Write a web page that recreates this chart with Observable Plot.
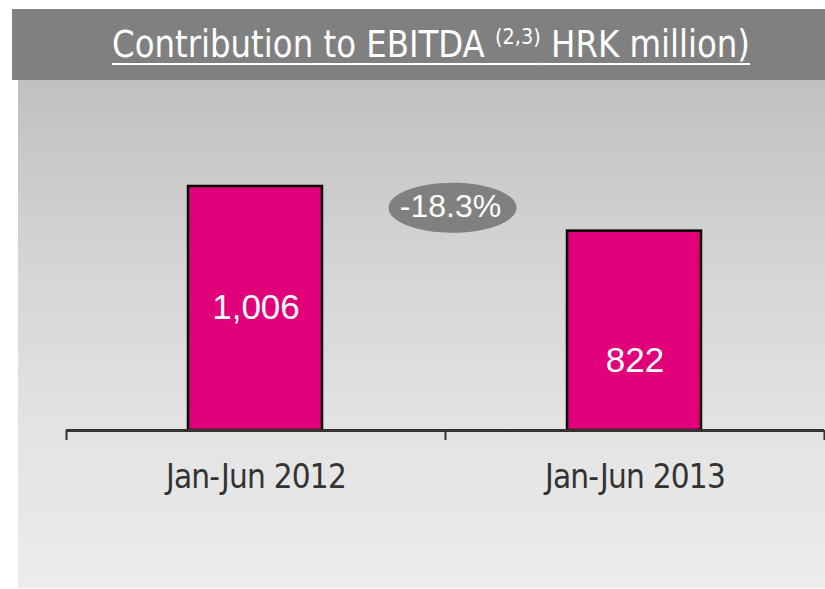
<!DOCTYPE html>
<html>
<head>
<meta charset="utf-8">
<script src="https://cdn.jsdelivr.net/npm/d3@7"></script>
<script src="https://cdn.jsdelivr.net/npm/@observablehq/plot@0.6"></script>
<style>
  html, body { margin: 0; padding: 0; background: #ffffff; }
  #page { position: relative; width: 825px; height: 589px; overflow: hidden; }
  #header { position: absolute; left: 12px; top: 9px; width: 813px; height: 71px; background: #808080; }
  #title { position: absolute; left: 100px; top: 0; height: 71px; line-height: 71px; white-space: nowrap;
           font-family: "DejaVu Sans Condensed", "Liberation Sans", sans-serif;
           font-size: 37px; color: #ffffff; transform-origin: 0 50%;
           text-decoration: underline; text-decoration-thickness: 2px; text-underline-offset: 6px; }
  #title sup { font-size: 22px; vertical-align: 13px; line-height: 0; }
  #body { position: absolute; left: 18px; top: 80px; width: 807px; height: 508px;
          background: linear-gradient(to bottom, #c0c0c0 0%, #d4d4d4 35%, #e3e3e3 68%, #ececec 100%); }
  #chart { position: absolute; left: 0; top: 80px; }
</style>
</head>
<body>
<div id="page">
  <div id="header"><span id="title"></span></div>
  <div id="body"></div>
  <div id="chart"></div>
</div>
<script>
const titleMain = "Contribution to EBITDA ";
const titleSup = "(2,3)";
const titleTail = " HRK million)";
const categories = ["Jan-Jun 2012", "Jan-Jun 2013"];
const values = [1006, 822];
const changeLabel = "-18.3%";

const t = document.getElementById("title");
t.append(titleMain);
const sup = document.createElement("sup");
sup.textContent = titleSup;
t.append(sup);
t.append(titleTail);
const tw = t.getBoundingClientRect().width;
t.style.transform = `scaleX(${638 / tw})`;

const data = categories.map((c, i) => ({category: c, value: values[i], i}));
const annot = [{label: changeLabel, mid: d3.mean(values)}];

const ellipse = {
  draw(ctx) {
    const rx = 64, ry = 25, k = 0.5523;
    ctx.moveTo(rx, 0);
    ctx.bezierCurveTo(rx, ry * k, rx * k, ry, 0, ry);
    ctx.bezierCurveTo(-rx * k, ry, -rx, ry * k, -rx, 0);
    ctx.bezierCurveTo(-rx, -ry * k, -rx * k, -ry, 0, -ry);
    ctx.bezierCurveTo(rx * k, -ry, rx, -ry * k, rx, 0);
    ctx.closePath();
  }
};

const narrow = "'DejaVu Sans Condensed', 'Liberation Sans', sans-serif";
const sans = "'Liberation Sans', Arial, sans-serif";

const chart = Plot.plot({
  width: 825,
  height: 509,
  marginLeft: 66,
  marginRight: 1,
  marginTop: 106,
  marginBottom: 159,
  x: {type: "linear", domain: [0, categories.length]},
  y: {domain: [0, d3.max(values)], axis: null},
  style: {background: "transparent", overflow: "visible"},
  marks: [
    Plot.rectY(data, {x1: d => d.i, x2: d => d.i + 1, y: "value", insetLeft: 122, insetRight: 123,
      fill: "#e2007a", stroke: "#000000", strokeWidth: 2.5}),
    Plot.ruleY([0], {stroke: "#333333", strokeWidth: 3}),
    Plot.axisX({ticks: d3.range(categories.length + 1), tickSize: 10, tickFormat: () => "",
      stroke: "#333333", strokeWidth: 2, strokeOpacity: 1}),
    Plot.text(data, {x: d => d.i + 0.5, y: 0, text: "category", dy: 47, fontSize: 33,
      fill: "#333333", fontFamily: narrow}),
    Plot.text(data.filter(d => d.i === 0), {x: d => d.i + 0.5, y: d => d.value / 2,
      text: d => d3.format(",")(d.value), fill: "#ffffff", fontSize: 35, fontFamily: sans, dy: -1}),
    Plot.text(data.filter(d => d.i === 1), {x: d => d.i + 0.5, y: d => d.value / 2,
      text: d => d3.format(",")(d.value), fill: "#ffffff", fontSize: 35, fontFamily: sans, dy: 30}),
    Plot.dot(annot, {x: () => 1, y: "mid", symbol: ellipse, fill: "#808080", stroke: "none", dx: 7, dy: -1}),
    Plot.text(annot, {x: () => 1, y: "mid", text: "label", fill: "#ffffff", fontSize: 32, fontFamily: sans, dx: 5, dy: -2})
  ]
});
chart.querySelectorAll("text").forEach(el => {
  if (categories.includes(el.textContent)) el.setAttribute("letter-spacing", "-0.8");
});
document.getElementById("chart").append(chart);
</script>
</body>
</html>
